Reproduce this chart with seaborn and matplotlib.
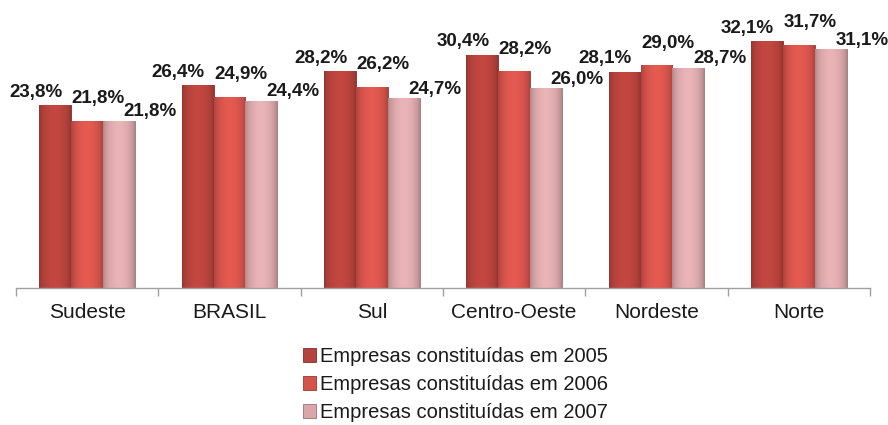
import numpy as np
import pandas as pd
import seaborn as sns
import matplotlib.pyplot as plt
from matplotlib.patches import Patch
from matplotlib.colors import to_rgb

# data
regions = ["Sudeste", "BRASIL", "Sul", "Centro-Oeste", "Nordeste", "Norte"]
series = ["Empresas constituídas em 2005",
          "Empresas constituídas em 2006",
          "Empresas constituídas em 2007"]
v2005 = [23.8, 26.4, 28.2, 30.4, 28.1, 32.1]
v2006 = [21.8, 24.9, 26.2, 28.2, 29.0, 31.7]
v2007 = [21.8, 24.4, 24.7, 26.0, 28.7, 31.1]
colors = ["#b5423c", "#d4534b", "#d9a6a9"]

df = pd.DataFrame({
    "regiao": regions * 3,
    "serie": np.repeat(series, len(regions)),
    "valor": v2005 + v2006 + v2007,
})

sns.set_theme(style="white")
plt.rcParams["font.family"] = ["Liberation Sans", "DejaVu Sans"]

fig = plt.figure(figsize=(8.88, 4.25), dpi=100)
ax = fig.add_axes([16 / 888, 1 - 288 / 425, (870 - 16) / 888, 288 / 425])

sns.barplot(data=df, x="regiao", y="valor", hue="serie", order=regions,
            hue_order=series, palette=colors, width=0.67, gap=0,
            saturation=1, legend=False, ax=ax)

# cylinder-like shading on each bar
t = np.linspace(0, 1, 64)
shade = 0.80 + 0.28 * np.sin(np.pi * t) ** 0.6
for cont, col in zip(ax.containers, colors):
    base = np.array(to_rgb(col))
    grad = np.clip(base[None, None, :] * shade[None, :, None], 0, 1)
    for bar in cont:
        x0, w, h = bar.get_x(), bar.get_width(), bar.get_height()
        bar.set_edgecolor(base * 0.7)
        bar.set_linewidth(0.6)
        im = ax.imshow(grad, extent=[x0, x0 + w, 0, h], aspect="auto",
                       interpolation="bicubic", zorder=bar.get_zorder() + 0.1)
        im.set_clip_path(bar)

# value labels, placed like the original (left / above / right)
offsets = [(-14, 9.5), (8, 16), (22.5, 6.5)]
for cont, (dx, dy) in zip(ax.containers, offsets):
    for bar in cont:
        v = bar.get_height()
        ax.annotate(f"{v:.1f}".replace(".", ",") + "%",
                    (bar.get_x() + bar.get_width() / 2, v),
                    xytext=(dx, dy), textcoords="offset points",
                    ha="center", va="center", fontsize=13.5,
                    fontweight="bold", color="#1a1a1a", zorder=5)

ax.set_xlim(-0.5, len(regions) - 0.5)
ax.set_ylim(0, 37.5)
ax.set_xlabel("")
ax.set_ylabel("")
ax.set_yticks([])
for s in ["top", "left", "right"]:
    ax.spines[s].set_visible(False)
ax.spines["bottom"].set_color("#a0a0a0")
ax.spines["bottom"].set_linewidth(1)

ax.set_xticks(np.arange(-0.5, len(regions)), minor=True)
ax.tick_params(axis="x", which="minor", bottom=True, length=6,
               color="#a0a0a0", width=1)
ax.tick_params(axis="x", which="major", length=0, pad=11,
               labelsize=15, labelcolor="#1a1a1a")

handles = [Patch(facecolor=c, edgecolor=np.array(to_rgb(c)) * 0.7, linewidth=0.6)
           for c in colors]
fig.legend(handles, series, loc="upper center", bbox_to_anchor=(0.513, 0.207),
           frameon=False, fontsize=14.5, handlelength=0.65, handleheight=0.65,
           handletextpad=0.2, labelspacing=0.45, borderpad=0,
           labelcolor="#1a1a1a")

fig.savefig("out.png", dpi=100)
